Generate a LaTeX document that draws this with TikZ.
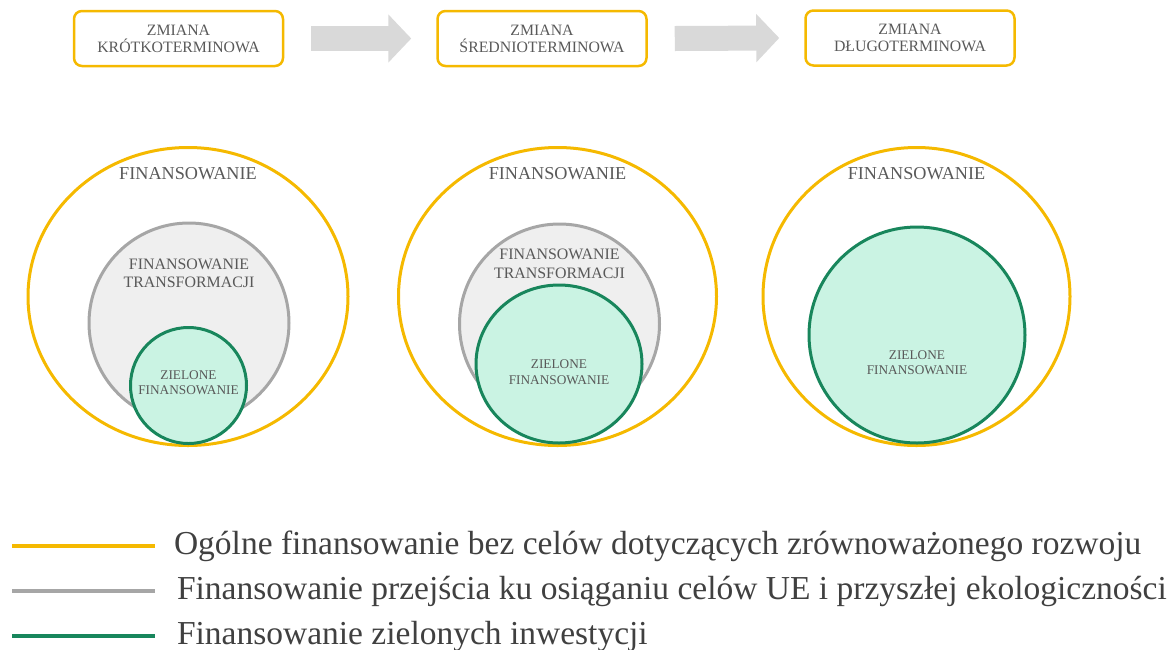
\documentclass[tikz,border=0pt]{standalone}
\usepackage{fontspec}
\setmainfont{Liberation Serif}
\usetikzlibrary{positioning,shapes.geometric,arrows.meta}
\definecolor{ringorange}{RGB}{245,185,0}
\definecolor{ringgray}{RGB}{166,166,166}
\definecolor{ringgreen}{RGB}{24,134,92}
\definecolor{fillgray}{RGB}{239,239,239}
\definecolor{fillgreen}{RGB}{202,243,227}
\definecolor{arrowgray}{RGB}{217,217,217}
\definecolor{txtgray}{RGB}{89,89,89}
\definecolor{legendgray}{RGB}{64,64,64}
\tikzset{
  stagebox/.style={draw=ringorange,line width=2.5pt,rounded corners=8pt,minimum width=209pt,minimum height=55pt,align=center,text=txtgray,font=\fontsize{15.8}{17}\selectfont},
  stagearrow/.style={draw=arrowgray,line width=25pt,-{Triangle[length=23pt,width=47pt]}},
  outerring/.style={ellipse,draw=ringorange,line width=3pt,inner sep=0pt},
  grayring/.style={ellipse,draw=ringgray,fill=fillgray,line width=3pt,inner sep=0pt},
  greenring/.style={ellipse,draw=ringgreen,fill=fillgreen,line width=3pt,inner sep=0pt},
  outerlabel/.style={text=txtgray,font=\fontsize{18.2}{20}\selectfont},
  graylabel/.style={text=txtgray,align=center,font=\fontsize{15.9}{18.5}\selectfont},
  greenlabel/.style={text=txtgray,align=center,font=\fontsize{13.3}{15.5}\selectfont},
  legendline/.style={line width=4pt},
  legendtext/.style={text=legendgray,anchor=west,inner sep=0pt,font=\fontsize{33.5}{36}\selectfont}
}
\begin{document}
\begin{tikzpicture}[x=1pt,y=-1pt]
    \useasboundingbox (0,0) rectangle (1173,649);
    % stages
    \node[stagebox] (krotka) at (178.5,38.5) {ZMIANA\\KRÓTKOTERMINOWA};
    \node[stagebox] (srednia) at (542,38.5) {ZMIANA\\ŚREDNIOTERMINOWA};
    \node[stagebox] (dluga) at (910,38) {ZMIANA\\DŁUGOTERMINOWA};
    \draw[stagearrow] ([xshift=27pt]krotka.east) -- ([xshift=-25pt]srednia.west);
    \draw[stagearrow] ([xshift=27pt]srednia.east) -- ([xshift=-25pt]dluga.west);
    % short term
    \node[outerring,minimum width=320pt,minimum height=298pt] (ogolne1) at (188,296.5) {};
    \node[grayring,minimum size=200pt] (transf1) at (189,323) {};
    \node[greenring,minimum size=116pt] (zielone1) at (188.5,385.5) {};
    \node[outerlabel] (ogolnelbl1) at (188,174) {FINANSOWANIE};
    \node[graylabel] (transflbl1) at (189,273.5) {FINANSOWANIE\\TRANSFORMACJI};
    \node[greenlabel] (zielonelbl1) at (188.5,382.5) {ZIELONE\\FINANSOWANIE};
    % medium term
    \node[outerring,minimum width=318pt,minimum height=298pt] (ogolne2) at (557.5,296.5) {};
    \node[grayring,minimum size=200pt] (transf2) at (559.5,324) {};
    \node[greenring,minimum width=166pt,minimum height=158pt] (zielone2) at (559,364) {};
    \node[outerlabel] (ogolnelbl2) at (557.5,174) {FINANSOWANIE};
    \node[graylabel] (transflbl2) at (559.5,264) {FINANSOWANIE\\TRANSFORMACJI};
    \node[greenlabel] (zielonelbl2) at (559,372) {ZIELONE\\FINANSOWANIE};
    % long term
    \node[outerring,minimum width=307pt,minimum height=298pt] (ogolne3) at (916.5,296.5) {};
    \node[greenring,minimum size=216pt] (zielone3) at (917,335) {};
    \node[outerlabel] (ogolnelbl3) at (916.5,174) {FINANSOWANIE};
    \node[greenlabel] (zielonelbl3) at (917,362.5) {ZIELONE\\FINANSOWANIE};
    % legend
    \draw[legendline,draw=ringorange] (12,546) -- (155,546) node[legendtext,xshift=17pt] (legogolne) {Ogólne finansowanie bez celów dotyczących zrównoważonego rozwoju};
    \draw[legendline,draw=ringgray] (12,591) -- (155,591) node[legendtext,xshift=20pt] (legtransf) {Finansowanie przejścia ku osiąganiu celów UE i przyszłej ekologiczności};
    \draw[legendline,draw=ringgreen] (12,636) -- (155,636) node[legendtext,xshift=20pt] (legzielone) {Finansowanie zielonych inwestycji};
\end{tikzpicture}
\end{document}
